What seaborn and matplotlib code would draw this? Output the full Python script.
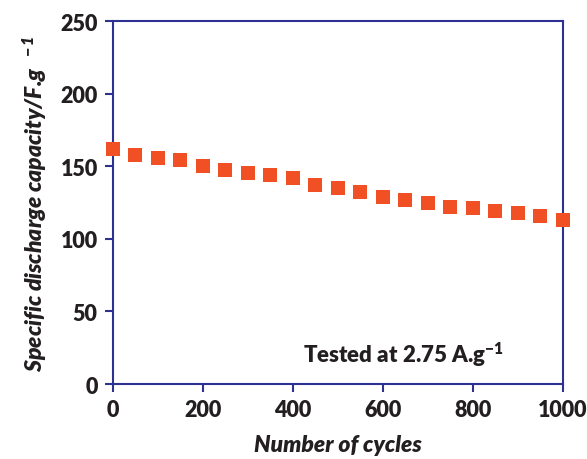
import matplotlib
matplotlib.use("Agg")
import matplotlib.pyplot as plt
import seaborn as sns
import pandas as pd

cycles = [0, 50, 100, 150, 200, 250, 300, 350, 400, 450, 500,
          550, 600, 650, 700, 750, 800, 850, 900, 950, 1000]
capacity = [162, 158, 156, 154.5, 150, 147.6, 145.5, 144, 142, 137.3, 135,
            132.2, 129, 126.7, 124.4, 122.1, 121.4, 119.1, 117.6, 115.5, 113.2]
xticks = [0, 200, 400, 600, 800, 1000]
yticks = [0, 50, 100, 150, 200, 250]

sns.set_theme(style="white")
plt.rcParams['font.family'] = ['Lato', 'DejaVu Sans']
plt.rcParams['mathtext.fontset'] = 'custom'
plt.rcParams['mathtext.rm'] = 'Lato:bold'
plt.rcParams['mathtext.it'] = 'Lato:italic:bold'
plt.rcParams['mathtext.default'] = 'regular'

navy = '#2E3192'
textc = '#231F20'
mcol = '#F05023'

df = pd.DataFrame({"cycles": cycles, "capacity": capacity})

fig = plt.figure(figsize=(5.87, 4.6), dpi=100)
ax = fig.add_axes([0.1925, 0.163, 0.7665, 0.789])
sns.scatterplot(data=df, x="cycles", y="capacity", marker='s', s=105,
                color=mcol, linewidth=0, ax=ax, clip_on=False, zorder=3)

ax.set_xlim(0, 1000)
ax.set_ylim(0, 250)
ax.set_xticks(xticks)
ax.set_yticks(yticks)
for sp in ax.spines.values():
    sp.set_color(navy)
    sp.set_linewidth(1.5)
ax.tick_params(axis='both', which='both', direction='out', length=6, width=1.5,
               color=navy, labelsize=15.5, labelcolor=textc, pad=5)
ax.tick_params(axis='x', bottom=True, top=False)
ax.tick_params(axis='y', left=True, right=False)
for lab in ax.get_xticklabels() + ax.get_yticklabels():
    lab.set_fontweight('heavy')

ax.set_xlabel("Number of cycles", fontsize=16.5, fontweight='heavy', style='italic',
              color=textc, labelpad=10)
ax.set_ylabel("Specific discharge capacity/F.g $^{\\ -1}$", fontsize=16.5,
              fontweight='heavy', style='italic', color=textc, labelpad=8)

ax.text(645, 21, "Tested at 2.75 A.g$^{-1}$", fontsize=16, fontweight='heavy',
        color=textc, ha='center', va='center')

fig.savefig("out.png", dpi=100)
